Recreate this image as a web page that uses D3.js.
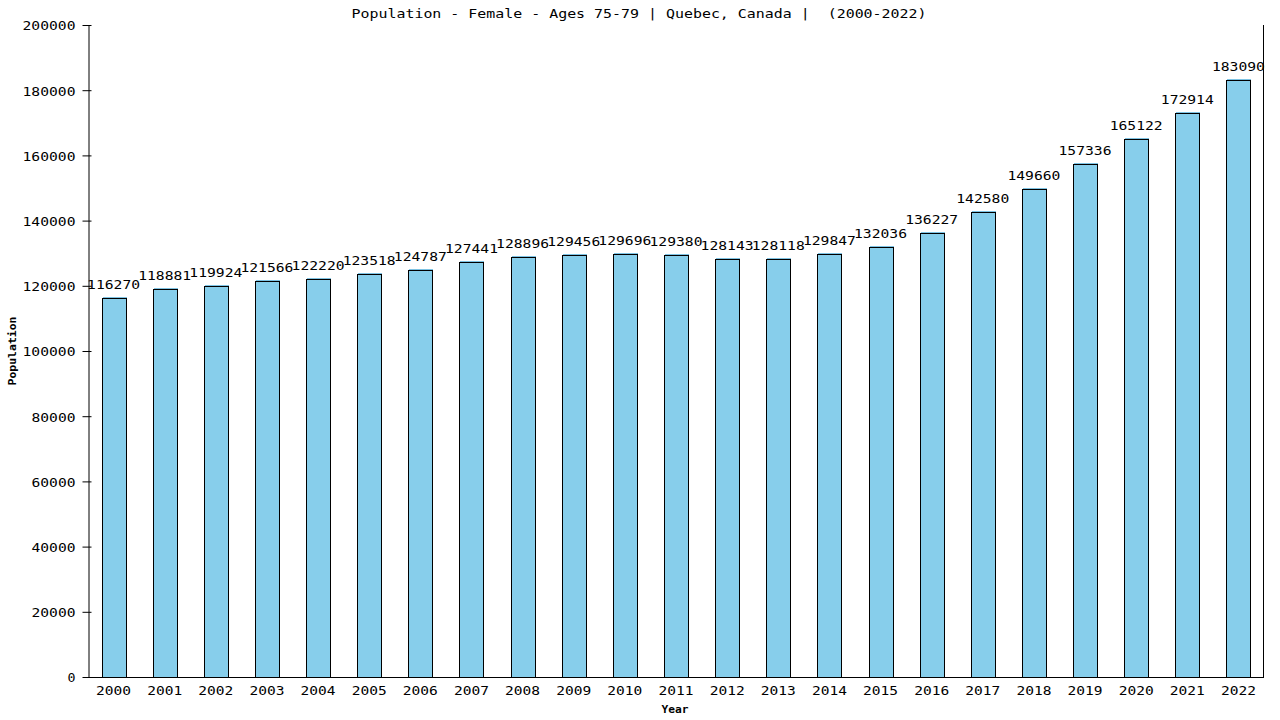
<!DOCTYPE html>
<html>
<head>
<meta charset="utf-8">
<script src="https://cdn.jsdelivr.net/npm/d3@7"></script>
<style>
  body { margin: 0; background: #fff; }
  text { font-family: "DejaVu Sans Mono", monospace; fill: #000; white-space: pre; }
</style>
</head>
<body>
<div id="chart"></div>
<script>
// values
var years = ["2000","2001","2002","2003","2004","2005","2006","2007","2008","2009","2010","2011",
             "2012","2013","2014","2015","2016","2017","2018","2019","2020","2021","2022"];
var population = [116270,118881,119924,121566,122220,123518,124787,127441,128896,129456,129696,129380,
                  128143,128118,129847,132036,136227,142580,149660,157336,165122,172914,183090];
var yTicks = [0,20000,40000,60000,80000,100000,120000,140000,160000,180000,200000];

var data = years.map((y, i) => ({year: y, value: population[i]}));

var W = 1280, H = 720;
var margin = {top: 25, right: 16, bottom: 43, left: 88},
    width = W - margin.left - margin.right,
    height = H - margin.top - margin.bottom;

// the reference font is a wide mono, stretch text to ~9px per char
function widen(sel, adv) {
    sel.each(function () {
        var t = d3.select(this), s = t.text();
        t.attr("textLength", s.length * adv - 1).attr("lengthAdjust", "spacingAndGlyphs");
    });
}

var svg = d3.select("#chart").append("svg")
    .attr("width", W).attr("height", H);

svg.append("text")
    .attr("x", 639).attr("y", 18)
    .attr("text-anchor", "middle")
    .style("font-size", "13px")
    .text("Population - Female - Ages 75-79 | Quebec, Canada |  (2000-2022)")
    .call(widen, 9);

var g = svg.append("g")
    .attr("transform", "translate(" + margin.left + "," + margin.top + ")");

var x = d3.scaleBand().domain(years).range([0, width]).paddingInner(0.53).paddingOuter(0.265);
var y = d3.scaleLinear().domain([0, 200000]).range([height, 0]);
var bw = Math.round(x.bandwidth());

// bars: fill sits 1px up/right of the black outline like in the reference
g.selectAll("rect.back")
    .data(data)
    .enter().append("rect")
    .attr("class", "back")
    .attr("x", d => Math.round(x(d.year)) + 1)
    .attr("y", d => Math.round(y(d.value)) - 1)
    .attr("width", bw)
    .attr("height", d => Math.round(height - y(d.value)))
    .attr("fill", "#7ec3e3");

g.selectAll("rect.bar")
    .data(data)
    .enter().append("rect")
    .attr("class", "bar")
    .attr("x", d => Math.round(x(d.year)) + 0.5)
    .attr("y", d => Math.round(y(d.value)) + 0.5)
    .attr("width", bw)
    .attr("height", d => Math.round(height - y(d.value)))
    .attr("fill", "#87CEEB")
    .attr("stroke", "#000")
    .attr("stroke-width", 1);

// value labels
g.selectAll("text.val")
    .data(data)
    .enter().append("text")
    .attr("class", "val")
    .attr("x", d => x(d.year) + x.bandwidth() / 2)
    .attr("y", d => y(d.value) - 9)
    .attr("text-anchor", "middle")
    .style("font-size", "13px")
    .text(d => d.value)
    .call(widen, 9);

// y axis
var yAxis = g.append("g")
    .attr("transform", "translate(0.5,0)")
    .call(d3.axisLeft(y).tickValues(yTicks).tickSize(6).tickSizeOuter(0).tickFormat(d3.format("d")));
yAxis.selectAll(".tick line").attr("x1", 3).attr("x2", -6);
yAxis.selectAll("text").style("font-size", "13px").attr("x", -13).attr("dy", "0.38em").call(widen, 9);
yAxis.select(".domain").attr("stroke", "#000");

// x axis
var xAxis = g.append("g")
    .attr("transform", "translate(0," + (height + 0.5) + ")")
    .call(d3.axisBottom(x).tickSize(0).tickSizeOuter(0).tickPadding(8));
xAxis.selectAll("text").style("font-size", "13px").call(widen, 9);
xAxis.select(".domain").attr("d", "M-2,0H" + width);

// right border line
g.append("line")
    .attr("x1", width - 0.5).attr("x2", width - 0.5)
    .attr("y1", 0).attr("y2", height)
    .attr("stroke", "#000");

// axis titles
svg.append("text")
    .attr("x", 675).attr("y", H - 7)
    .attr("text-anchor", "middle")
    .style("font-size", "11px").style("font-weight", "bold")
    .text("Year")
    .call(widen, 7);

svg.append("text")
    .attr("transform", "translate(16," + (margin.top + height / 2) + ") rotate(-90)")
    .attr("text-anchor", "middle")
    .style("font-size", "11px").style("font-weight", "bold")
    .text("Population")
    .call(widen, 7);
</script>
</body>
</html>
